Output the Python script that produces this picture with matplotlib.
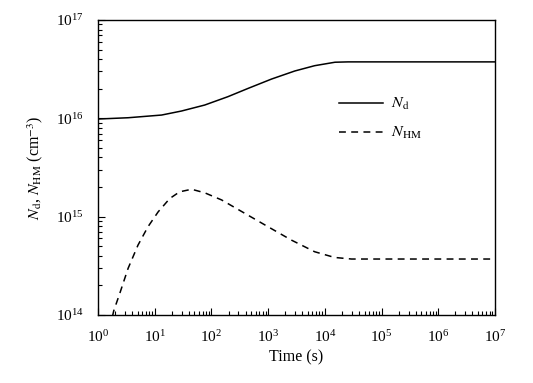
import matplotlib
matplotlib.use("Agg")
import matplotlib.pyplot as plt
from matplotlib.ticker import LogLocator, NullFormatter

plt.rcParams["font.family"] = ["Liberation Serif", "DejaVu Serif"]
plt.rcParams["mathtext.fontset"] = "stix"

# N_d: donor density vs time
t_nd = [1, 3.4, 13.2, 29.5, 76, 195, 447, 1150, 2950, 6600, 15100,
        25700, 1e7]
n_nd = [9.84e15, 1.014e16, 1.08e16, 1.186e16, 1.365e16, 1.66e16, 2.02e16,
        2.51e16, 3.03e16, 3.43e16, 3.72e16, 3.75e16, 3.75e16]

# N_HM: hydrogen-metastable density vs time
t_hm = [1.8, 1.89, 2.42, 3.39, 5.07, 7.59, 11.5, 18.4, 27.5, 44.7, 75.9,
        151, 389, 1000, 2570, 6610, 14800, 29500, 1e7]
n_hm = [0.97e14, 1.10e14, 1.66e14, 2.98e14, 5.14e14, 7.89e14, 1.12e15,
        1.53e15, 1.79e15, 1.90e15, 1.75e15, 1.48e15, 1.08e15, 7.89e14,
        5.78e14, 4.40e14, 3.85e14, 3.71e14, 3.71e14]

fig = plt.figure(figsize=(5.33, 3.83), dpi=100)
ax = fig.add_axes([0.1839, 0.1775, 0.7448, 0.7703])

ax.plot(t_nd, n_nd, color="black", lw=1.1, label=r"$N_{\rm d}$")
ax.plot(t_hm, n_hm, color="black", lw=1.1, linestyle=(0, (4.5, 3.5)),
        label=r"$N_{\rm HM}$")

ax.set_xscale("log")
ax.set_yscale("log")
ax.set_xlim(1, 1e7)
ax.set_ylim(1e14, 1e17)

ax.xaxis.set_major_locator(LogLocator(base=10, numticks=10))
ax.xaxis.set_minor_locator(LogLocator(base=10, subs=range(2, 10), numticks=10))
ax.yaxis.set_major_locator(LogLocator(base=10, numticks=10))
ax.yaxis.set_minor_locator(LogLocator(base=10, subs=range(2, 10), numticks=10))
ax.xaxis.set_minor_formatter(NullFormatter())
ax.yaxis.set_minor_formatter(NullFormatter())

ax.tick_params(which="both", direction="in", top=False, right=False,
               labelsize=11, width=0.8)
ax.tick_params(which="major", length=5)
ax.tick_params(which="minor", length=3)
ax.tick_params(axis="x", which="major", pad=10)
ax.tick_params(axis="y", which="major", pad=10)
for s in ax.spines.values():
    s.set_linewidth(1.0)

ax.set_xlabel("Time (s)", fontsize=11.5, labelpad=3)
ax.set_ylabel(r"$N_{\rm d}$, $N_{\rm HM}$ (cm$^{-3}$)", fontsize=11.5,
              labelpad=8)

ax.legend(loc="upper left", bbox_to_anchor=(0.572, 0.79), frameon=False,
          fontsize=11.5, handlelength=2.7, labelspacing=0.8, handletextpad=0.5)

fig.savefig("out.png", dpi=100)
